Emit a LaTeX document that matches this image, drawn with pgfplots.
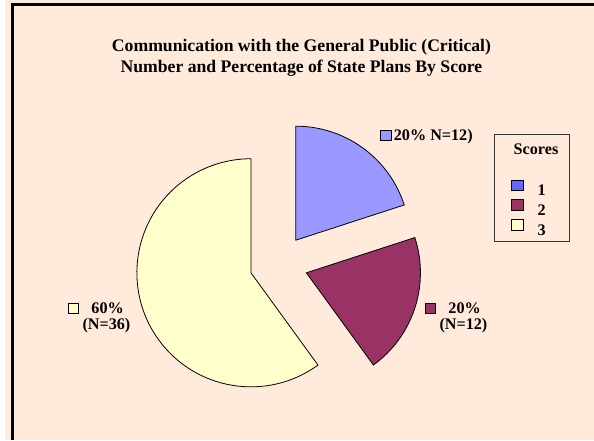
\documentclass[border=0pt]{standalone}
\usepackage{pgfplots}
\usepackage{pgfplotstable}
\pgfplotsset{compat=1.18}
\usepackage{fontspec}
\setmainfont{Liberation Serif}
\definecolor{bgpeach}{HTML}{FFEADB}
\definecolor{pieblue}{HTML}{9999FF}
\definecolor{piemaroon}{HTML}{993366}
\definecolor{pieyellow}{HTML}{FFFFCC}
\definecolor{legblue}{HTML}{6666FF}

% scores and number of state plans
\pgfplotstableread{
score n fill
1 12 pieblue
2 12 piemaroon
3 36 pieyellow
}\pietable

\newcommand{\lbl}{\fontsize{16.3}{19}\selectfont\bfseries}
\newcommand{\ttl}{\fontsize{17.8}{21}\selectfont\bfseries}

\begin{document}
\gdef\total{0}
\pgfplotsinvokeforeach{0,1,2}{%
  \pgfplotstablegetelem{#1}{n}\of\pietable
  \pgfmathsetmacro\tmp{\total+\pgfplotsretval}\xdef\total{\tmp}}
\begin{tikzpicture}
\fill[bgpeach] (0,0) rectangle (594pt,444pt);
\useasboundingbox (0,0) rectangle (594pt,444pt);
\begin{axis}[
  at={(0,0)}, anchor=south west,
  scale only axis, width=594pt, height=444pt,
  xmin=0, xmax=594, ymin=0, ymax=444,
  y dir=reverse,
  hide axis, clip=false,
]
% frame (left and top edges only)
\draw[line width=2.8pt] (axis cs:7.5,444) -- (axis cs:7.5,4.5) -- (axis cs:594,4.5);

% exploded pie, drawn from the table
\def\cx{276}\def\cy{266}\def\rr{115pt}\def\dd{29.4}
\gdef\acc{90}
\pgfplotsinvokeforeach{0,1,2}{%
  \pgfplotstablegetelem{#1}{n}\of\pietable \pgfmathsetmacro\nv{\pgfplotsretval}
  \pgfplotstablegetelem{#1}{fill}\of\pietable \edef\fc{\pgfplotsretval}
  \pgfmathsetmacro\aS{\acc}
  \pgfmathsetmacro\aE{\acc-360*\nv/\total}
  \pgfmathsetmacro\aM{(\aS+\aE)/2}
  \pgfmathsetmacro\vx{\cx+\dd*cos(\aM)}
  \pgfmathsetmacro\vy{\cy-\dd*sin(\aM)}
  \xdef\acc{\aE}
  \edef\cmd{\noexpand\filldraw[fill=\fc, draw=black, line width=0.8pt]
    (axis cs:\vx,\vy) -- ++(\aS:\rr) arc[start angle=\aS, end angle=\aE, radius=\rr] -- cycle;}
  \cmd
}

% title
\node[anchor=base, font=\ttl] at (axis cs:299,52) {Communication with the General Public (Critical)};
\node[anchor=base, font=\ttl] at (axis cs:299,73) {Number and Percentage of State Plans By Score};

% data labels
\draw[fill=pieblue, line width=0.8pt] (axis cs:378.5,131.5) rectangle (axis cs:389.5,142);
\node[anchor=base west, font=\lbl, inner sep=0pt] at (axis cs:392,142) {20\% N=12)};

\draw[fill=piemaroon, line width=0.8pt] (axis cs:423.5,305.5) rectangle (axis cs:434,316);
\node[anchor=base west, font=\lbl, inner sep=0pt] at (axis cs:447,316) {20\%};
\node[anchor=base west, font=\lbl, inner sep=0pt] at (axis cs:438,332) {(N=12)};

\draw[fill=pieyellow, line width=0.8pt] (axis cs:63.5,305.5) rectangle (axis cs:74,316);
\node[anchor=base west, font=\lbl, inner sep=0pt] at (axis cs:87,316) {60\%};
\node[anchor=base west, font=\lbl, inner sep=0pt] at (axis cs:78,332) {(N=36)};

% legend
\draw[line width=0.8pt, draw=black!80] (axis cs:494,136) rectangle (axis cs:569,243);
\node[anchor=base, font=\lbl] at (axis cs:535.5,156) {Scores};
\draw[fill=legblue, line width=0.8pt] (axis cs:510.5,181.5) rectangle (axis cs:522.5,192);
\draw[fill=piemaroon, line width=0.8pt] (axis cs:510.5,201.5) rectangle (axis cs:522.5,212);
\draw[fill=pieyellow, line width=0.8pt] (axis cs:510.5,221.5) rectangle (axis cs:522.5,232);
\node[anchor=base west, font=\lbl, inner sep=0pt] at (axis cs:537,197) {1};
\node[anchor=base west, font=\lbl, inner sep=0pt] at (axis cs:537,217) {2};
\node[anchor=base west, font=\lbl, inner sep=0pt] at (axis cs:537,237) {3};
\end{axis}
\end{tikzpicture}
\end{document}
